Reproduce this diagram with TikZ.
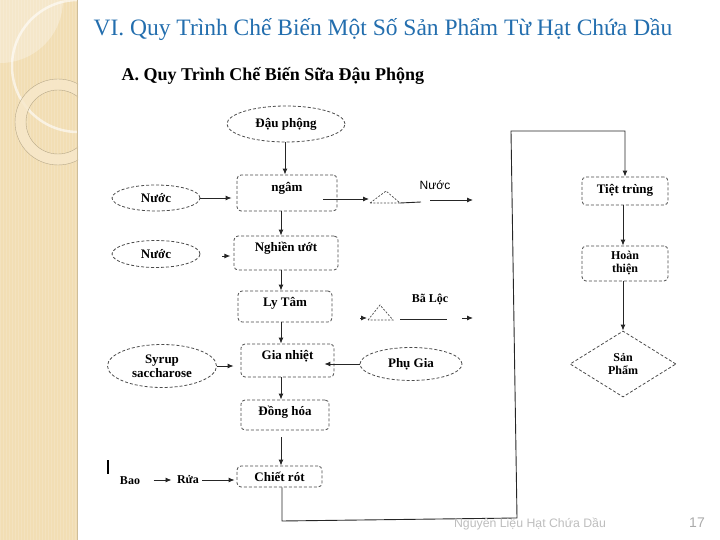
\documentclass[tikz,border=0pt]{standalone}
\usepackage{fontspec}
\setmainfont{Liberation Serif}
\setsansfont{Liberation Sans}
\usetikzlibrary{shapes.geometric, arrows.meta, calc}
\definecolor{titleblue}{HTML}{236EAE}
\definecolor{stripbg}{HTML}{F2DEB4}
\definecolor{stripring}{HTML}{F7E8CB}
\definecolor{footgray}{HTML}{BDBDBD}
\tikzset{
  % buoc xu ly (hop vien net dut)
  proc/.style n args={2}{draw=black!70, dashed, dash pattern=on 3pt off 2pt,
    rounded corners=4pt, line width=0.8pt, fill=white, inner sep=0pt,
    align=center, font=\bfseries\fontsize{13}{14}\selectfont,
    text height=#1, text depth=#2},
  % nguyen lieu vao (elip)
  src/.style={ellipse, draw=black!70, dashed, dash pattern=on 3pt off 2pt,
    line width=0.8pt, fill=white, inner sep=0pt, align=center,
    font=\bfseries\fontsize{13}{14}\selectfont},
  % san pham cuoi
  prod/.style={diamond, draw=black!70, dashed, dash pattern=on 3pt off 2pt,
    line width=0.8pt, fill=white, inner sep=0pt, align=center, aspect=1.6,
    font=\bfseries\fontsize{12}{13}\selectfont},
  % mui ten dong chay
  flow/.style={-{Latex[length=6pt,width=5pt]}, line width=0.9pt, black!85},
  line/.style={line width=0.9pt, black!85},
  tri/.style={draw=black!70, dashed, dash pattern=on 2pt off 1.5pt, line width=0.7pt},
  lbl/.style={font=\bfseries\fontsize{12}{13}\selectfont},
}

\begin{document}
\begin{tikzpicture}[x=1pt, y=-1pt]
  \useasboundingbox (0,0) rectangle (720,540);
  % dai trang tri ben trai
  \begin{scope}
    \clip (0,0) rectangle (78,540);
    \fill[stripbg] (0,0) rectangle (78,540);
    \draw[white, opacity=0.15, line width=0.5pt, step=3] (0,0) grid (78,540);
    \fill[white, opacity=0.3] (0,0) circle (63);
    \draw[white, opacity=0.6, line width=2.5pt] (78,66) circle (66);
    \fill[stripring, opacity=0.8, even odd rule] (58,122) circle (43) (58,122) circle (32);
    \draw[stripbg!75!black, line width=0.4pt] (58,122) circle (43) (58,122) circle (32);
    \draw[stripbg!85!black, line width=0.5pt] (77.5,0) -- (77.5,540);
  \end{scope}

  \node[text=titleblue, font=\fontsize{23.5}{26}\selectfont] (title) at (383,30)
    {VI. Quy Trình Chế Biến Một Số Sản Phẩm Từ Hạt Chứa Dầu};
  \node[font=\bfseries\fontsize{18}{20}\selectfont] (subtitle) at (273,76)
    {A. Quy Trình Chế Biến Sữa Đậu Phộng};

  % cot chinh
  \coordinate (spine) at (281,0);
  \node[src, minimum width=118, minimum height=36] (dau) at (286,124) {Đậu phộng};
  \node[proc={16.5pt}{19.5pt}, minimum width=100] (ngam) at (287,193) {ngâm};
  \node[proc={15.5pt}{18.5pt}, minimum width=104] (nghien) at (286,253) {Nghiền ướt};
  \node[proc={15.5pt}{15.5pt}, minimum width=94] (lytam) at (285,306.5) {Ly Tâm};
  \node[proc={15.5pt}{17.5pt}, minimum width=93] (gia) at (287.5,360.5) {Gia nhiệt};
  \node[proc={15.5pt}{14.5pt}, minimum width=88] (dong) at (285,415) {Đồng hóa};
  \node[proc={15.5pt}{5.5pt}, minimum width=85] (chiet) at (279.5,476.5) {Chiết rót};

  % nguyen lieu phu
  \node[src, minimum width=88, minimum height=26] (nuoca) at (156,198) {Nước};
  \node[src, minimum width=88, minimum height=27] (nuocb) at (156,254) {Nước};
  \node[src, minimum width=109, minimum height=43] (syrup) at (162,366) {Syrup\\saccharose};
  \node[src, minimum width=102, minimum height=33] (phugia) at (411,364) {Phụ Gia};
  \node[lbl] (bao) at (130,481) {Bao};
  \node[lbl] (rua) at (188,480) {Rửa};
  \draw[line width=2pt] (108,460) -- (108,474);

  % cot phai
  \node[proc={16.5pt}{11.5pt}, minimum width=86] (tiet) at (625,191) {Tiệt trùng};
  \node[proc={0pt}{0pt}, text height=, text depth=, minimum width=86, minimum height=35,
    font=\bfseries\fontsize{12}{13}\selectfont] (hoan) at (625,263.5) {Hoàn\\thiện};
  \node[prod, minimum width=106, minimum height=66] (sanpham) at (623,364) {Sản\\Phẩm};

  % cac tam giac thai ra
  \coordinate (ta) at (370,203); \coordinate (tb) at (400,203); \coordinate (tc) at (386,191);
  \draw[tri] (ta) -- (tc) -- (tb) -- cycle;
  \coordinate (ua) at (368,320); \coordinate (ub) at (393,320); \coordinate (uc) at (380,305);
  \draw[tri] (ua) -- (uc) -- (ub) -- cycle;
  \node[font=\sffamily\fontsize{12}{13}\selectfont] (nuocra) at (435,185) {Nước};
  \node[lbl] (bara) at (430,299) {Bã Lộc};
  \coordinate (nuocend) at (473,200);
  \coordinate (baend) at (473,318);

  % mui ten
  \draw[flow] (dau.south -| spine) ++(4,0) -- (ngam.north -| {$(spine)+(4,0)$});
  \draw[flow, shorten >=5pt] (nuoca.east) -- (ngam.west |- nuoca.east);
  \draw[flow] ($(ngam.east)+(-14,6)$) -- ($(ta)+(-1,-4)$);
  \draw[line] (tb) -- (421,202);
  \draw[flow] (430,200) -- (nuocend);
  \draw[flow] (ngam.south -| spine) -- (nghien.north -| spine);
  \draw[flow] ($(nuocb.east)+(22,2)$) -- ($(nuocb.east)+(30,2)$);
  \draw[flow] (nghien.south -| spine) -- (lytam.north -| spine);
  \draw[flow] (lytam.south -| spine) -- (gia.north -| spine);
  \draw[flow] (360,318) -- ($(ua)+(-1,-2)$);
  \draw[line] (400,319) -- (447,319);
  \draw[flow] (462,318) -- (baend);
  \draw[flow, shorten >=7pt] (syrup.east) -- (gia.west |- syrup.east);
  \draw[flow] (phugia.west) -- ($(gia.east |- phugia.west)+(-10,0)$);
  \draw[flow] (gia.south -| spine) -- (dong.north -| spine);
  \draw[flow] ($(dong.south -| spine)+(0,7)$) -- (chiet.north -| spine);
  \draw[flow] ($(bao.east)+(10,-1)$) -- ($(rua.west)+(-2,0)$);
  \draw[flow, shorten >=2pt] (rua.east) -- (chiet.west |- rua.east);
  \draw[flow] ($(chiet.south -| spine)+(1,0)$) -- (282,521) -- (517,518) -- (511,131)
    -- (tiet.north |- 0,131) -- (tiet.north);
  \draw[flow] (tiet.south -| 623,0) -- (hoan.north -| 623,0);
  \draw[flow] (hoan.south -| 623,0) -- (sanpham.north);

  % chan trang
  \node[text=footgray, font=\sffamily\fontsize{12.3}{13}\selectfont] (foot) at (530,524)
    {Nguyên Liệu Hạt Chứa Dầu};
  \node[text=footgray!90!black, font=\sffamily\fontsize{14}{15}\selectfont] (page) at (697,523) {17};
\end{tikzpicture}
\end{document}
